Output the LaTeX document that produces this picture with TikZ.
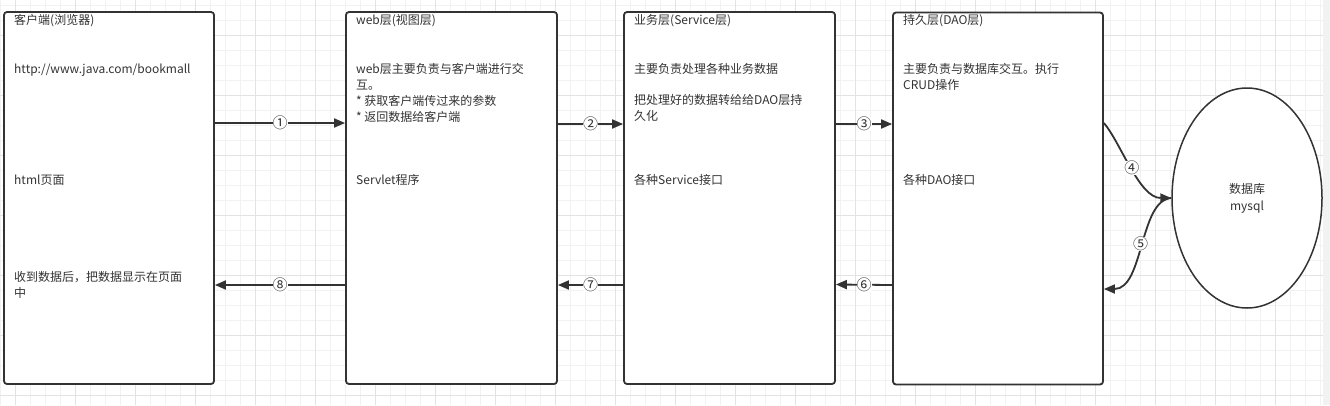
\documentclass[tikz,border=0pt]{standalone}
\usepackage{fontspec}
\setmainfont{Noto Sans CJK SC}
\usetikzlibrary{shapes.geometric,arrows.meta,positioning,calc}
\definecolor{ink}{HTML}{333333}
\definecolor{gridminor}{HTML}{F2F2F2}
\definecolor{gridmajor}{HTML}{E3E3E3}

\begin{document}
\begin{tikzpicture}[
    x=1pt, y=-1pt,
    layer/.style={draw=ink, line width=1.8pt, rounded corners=3pt, fill=white, minimum height=372pt, inner sep=0pt},
    store/.style={ellipse, draw=ink, line width=1.5pt, fill=white, minimum width=150pt, minimum height=220pt, align=center, text=ink, font=\fontsize{12}{17}\selectfont},
    txt/.style={anchor=base west, inner sep=0pt, align=left, text=ink, font=\fontsize{12}{16}\selectfont},
    num/.style={fill=white, inner sep=0pt, text=ink, font=\fontsize{15}{15}\selectfont},
    flow/.style={->, draw=ink, line width=1.8pt},
    >={Triangle[length=11pt,width=9pt]}
]
\useasboundingbox (0,0) rectangle (1330,405);

% Background grid
\fill[white] (0,0) rectangle (1323,405);
\fill[gridminor] (1323,0) rectangle (1330,405);
\foreach \gx in {0,15,...,1320} \draw[gridminor, line width=1pt] (\gx,0) -- (\gx,405);
\foreach \gy in {5,20,...,395} \draw[gridminor, line width=1pt] (0,\gy) -- (1323,\gy);
\foreach \gx in {15,75,...,1315} \draw[gridmajor, line width=1pt] (\gx,0) -- (\gx,405);
\foreach \gy in {35,95,...,395} \draw[gridmajor, line width=1pt] (0,\gy) -- (1323,\gy);

% Layers
\node[layer, minimum width=210pt] (client) at (109,198) {};
\node[layer, minimum width=211pt] (web) at (451.5,198) {};
\node[layer, minimum width=211pt] (service) at (729.5,198) {};
\node[layer, minimum width=210pt] (dao) at (998,198.5) {};
\node[store] (db) at (1247,198) {数据库\\mysql};

% Client texts (base = last line)
\node[txt] (clientTitle) at (14,24.5) {客户端(浏览器)};
\node[txt] (clientUrl) at (14,73) {http://www.java.com/bookmall};
\node[txt] (clientPage) at (14,184.5) {html页面};
\node[txt] (clientShow) at (14,297.5) {收到数据后，把数据显示在页面\\中};

% Web texts
\node[txt] (webTitle) at (356,24.5) {web层(视图层)};
\node[txt] (webDesc) at (356,121) {web层主要负责与客户端进行交\\互。\\* 获取客户端传过来的参数\\* 返回数据给客户端};
\node[txt] (webImpl) at (356,184.5) {Servlet程序};

% Service texts
\node[txt] (serviceTitle) at (634,24.5) {业务层(Service层)};
\node[txt] (serviceDesc) at (634,73) {主要负责处理各种业务数据};
\node[txt] (serviceSave) at (634,120.5) {把处理好的数据转给给DAO层持\\久化};
\node[txt] (serviceImpl) at (634,184.5) {各种Service接口};

% DAO texts
\node[txt] (daoTitle) at (903,24.5) {持久层(DAO层)};
\node[txt] (daoDesc) at (903,89) {主要负责与数据库交互。执行\\CRUD操作};
\node[txt] (daoImpl) at (903,184.5) {各种DAO接口};

% Requests
\draw[flow] ([yshift=75pt]client.east) -- node[num] {①} ([yshift=75pt]web.west);
\draw[flow] ([yshift=74pt]web.east) -- node[num] {②} ([yshift=74pt]service.west);
\draw[flow] ([yshift=74pt]service.east) -- node[num] {③} ([yshift=74.5pt]dao.west);
\draw[flow] ([yshift=75.5pt]dao.east) .. controls +(17,20) and +(-32,0) .. node[num] {④} (db.west);
\draw[flow] (db.west) .. controls +(-32,2) and +(40,0) .. node[num] {⑤} ([yshift=-90.5pt]dao.east);

% Responses
\draw[flow] ([yshift=-86.5pt]dao.west) -- node[num] {⑥} ([yshift=-86.5pt]service.east);
\draw[flow] ([yshift=-87pt]service.west) -- node[num] {⑦} ([yshift=-87pt]web.east);
\draw[flow] ([yshift=-87pt]web.west) -- node[num] {⑧} ([yshift=-87pt]client.east);

\end{tikzpicture}
\end{document}
